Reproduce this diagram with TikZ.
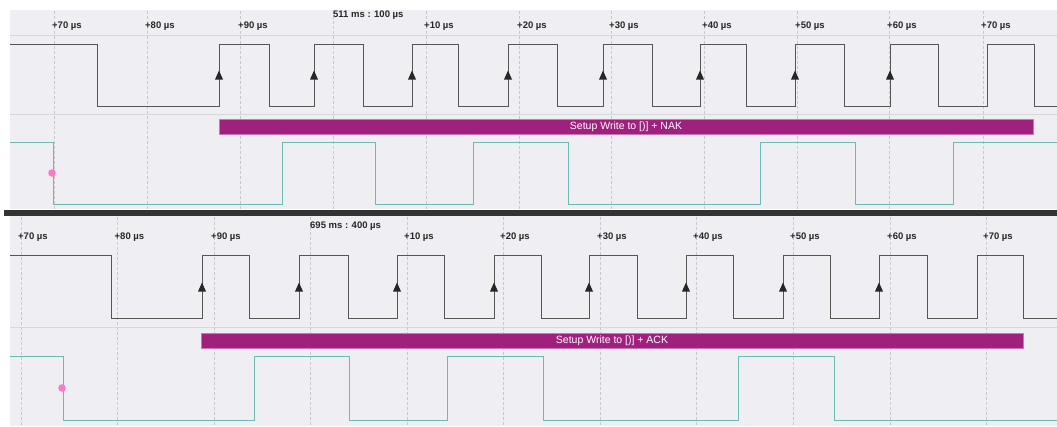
\documentclass[tikz,border=0pt]{standalone}
\usepackage{fontspec}
\setmainfont{Liberation Sans}
\definecolor{panelbg}{HTML}{EFEFF3}
\definecolor{clkc}{HTML}{555555}
\definecolor{datc}{HTML}{6CBAB6}
\definecolor{barc}{HTML}{A0207E}
\definecolor{dotc}{HTML}{FF7AC6}
\definecolor{gridc}{HTML}{C8C8CC}
\definecolor{sepc}{HTML}{D8D8DC}
\definecolor{darkc}{HTML}{333333}
\begin{document}
\begin{tikzpicture}[x=1pt,y=-1pt,
  ticklabel/.style={font=\bfseries\fontsize{9.5}{10}\selectfont, anchor=west, inner sep=0pt, text=black!85},
  timelabel/.style={font=\bfseries\fontsize{9.5}{10}\selectfont, anchor=west, inner sep=0pt, text=black!85},
  gridline/.style={draw=gridc, line width=0.6pt, dash pattern=on 2.5pt off 2.5pt},
  sepline/.style={draw=sepc, line width=1pt},
  clkline/.style={draw=clkc, line width=0.95pt},
  datline/.style={draw=datc, line width=1pt},
  decbar/.style={fill=barc, draw=barc!60!white, line width=0.5pt},
  bartext/.style={font=\fontsize{10.5}{11}\selectfont, text=white, inner sep=0pt},
  edgemark/.style={fill=black!85},
  marker/.style={fill=dotc}
]
\useasboundingbox (0,0) rectangle (1057,426);
\fill[white] (0,0) rectangle (1057,426);

% panels
\fill[panelbg] (10,10) rectangle (1057,209);
\fill[darkc] (4,209.5) rectangle (1057,215.5);
\fill[panelbg] (10,215.5) rectangle (1057,426);

% ---------- top panel ----------
\draw[sepline] (10,35) -- (1057,35);
\draw[sepline] (10,114) -- (1057,114);
\foreach \x in {54,147,240,333,426,519,611,704,797,889,983}
  \draw[gridline] (\x,11) -- (\x,209);
\foreach \x/\t/\n in {54/+70/ta,147/+80/tb,240/+90/tc,426/+10/td,519/+20/te,611/+30/tf,704/+40/tg,797/+50/th,889/+60/ti,983/+70/tj}
  \node[ticklabel] (\n) at (\x-2,26) {\t\ µs};
\node[timelabel] (ttime) at (333,15) {511 ms : 100 µs};

\draw[clkline] (10,44) -| (97,106) -| (219,44) -| (269,106) -| (314,44) -| (363,106) -| (412,44) -| (458,106) -| (508,44) -| (557,106) -| (603,44) -| (652,106) -| (700,44) -| (746,106) -| (795,44) -| (844,106) -| (890,44) -| (938,106) -| (987,44) -| (1034,106) -- (1057,106);
\foreach \x in {219,314,412,508,603,700,795,890}
  \fill[edgemark] (\x-4,79.5) -- (\x+4,79.5) -- (\x,70.5) -- cycle;

\fill[decbar] (219,119) rectangle (1033,134);
\node[bartext] (tbar) at (626,126.5) {Setup Write to [)] + NAK};

\draw[datline] (10,142) -| (53,204) -| (282,142) -| (375,204) -| (473,142) -| (568,204) -| (760,142) -| (855,204) -| (953,142) -- (1057,142);
\fill[marker] (52,173) circle (3.8);

% ---------- bottom panel ----------
\draw[sepline] (10,327) -- (1057,327);
\foreach \x in {21,117.5,214,310,407,503,600,696,793,890,986}
  \draw[gridline] (\x,217) -- (\x,426);
\foreach \x/\t/\n in {21/+70/ba,117.5/+80/bb,214/+90/bc,407/+10/bd,503/+20/be,600/+30/bf,696/+40/bg,793/+50/bh,890/+60/bi,986/+70/bj}
  \node[ticklabel] (\n) at (\x-3,237) {\t\ µs};
\node[timelabel] (btime) at (310,226) {695 ms : 400 µs};

\draw[clkline] (10,255) -| (111,318) -| (202,255) -| (249,318) -| (299,255) -| (348,318) -| (397,255) -| (444,318) -| (494,255) -| (541,318) -| (589,255) -| (637,318) -| (686,255) -| (733,318) -| (783,255) -| (830,318) -| (879,255) -| (927,318) -| (977,255) -| (1023,318) -- (1057,318);
\foreach \x in {202,299,397,494,589,686,783,879}
  \fill[edgemark] (\x-4,291.5) -- (\x+4,291.5) -- (\x,282.5) -- cycle;

\fill[decbar] (201,333) rectangle (1023,348);
\node[bartext] (bbar) at (612,340.5) {Setup Write to [)] + ACK};

\draw[datline] (10,356) -| (63,420) -| (254,356) -| (349,420) -| (447,356) -| (543,420) -| (738,356) -| (834,420) -- (1057,420);
\fill[marker] (62,388) circle (3.8);
\end{tikzpicture}
\end{document}
